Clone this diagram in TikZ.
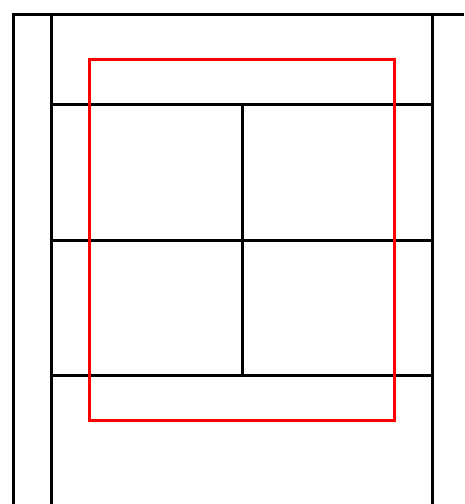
\documentclass[tikz,border=0pt]{standalone}
\begin{document}
\begin{tikzpicture}[x=1pt,y=-1pt,
  wall/.style={line width=3pt,black},
  zone/.style={line width=3pt,red}]
\useasboundingbox (0,0) rectangle (464,504);
% outer frame
\draw[wall] (13,504) -- (13,14) -- (464,14);
\draw[wall] (51,504) -- (51,14);
\draw[wall] (432,504) -- (432,14);
% horizontal divisions
\draw[wall] (51,104) -- (432,104);
\draw[wall] (51,240) -- (432,240);
\draw[wall] (51,375) -- (432,375);
% vertical division
\draw[wall] (242,104) -- (242,375);
% red rectangle
\draw[zone] (89,59) rectangle (394,420);
\end{tikzpicture}
\end{document}
